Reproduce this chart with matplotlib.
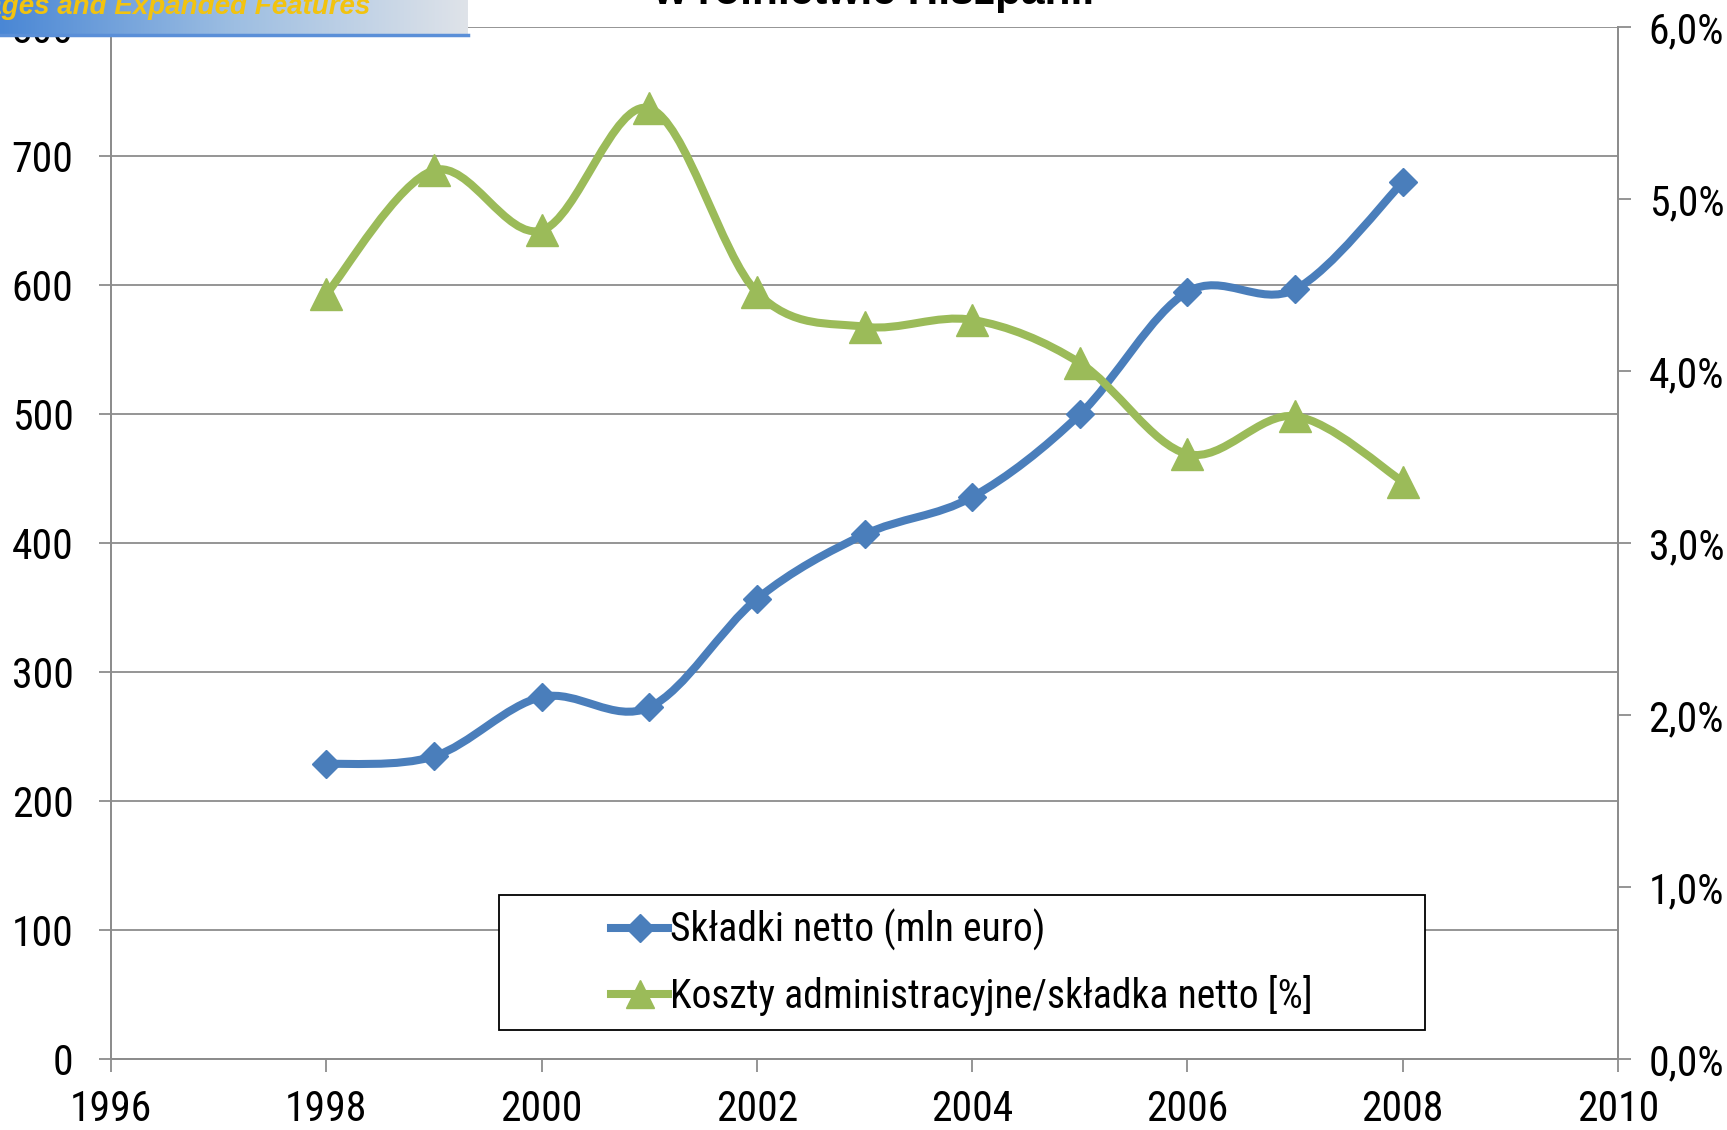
import numpy as np
import matplotlib
matplotlib.use("Agg")
import matplotlib.pyplot as plt
from matplotlib.path import Path
from matplotlib.patches import PathPatch, Rectangle
from matplotlib.lines import Line2D
from matplotlib.colors import LinearSegmentedColormap
from matplotlib.ticker import FuncFormatter, MultipleLocator

# --- data ---
years = [1998, 1999, 2000, 2001, 2002, 2003, 2004, 2005, 2006, 2007, 2008]
premiums = [229, 235, 281, 273, 357, 407, 436, 500, 595, 597, 680]          # mln euro
cost_ratio = [4.45, 5.17, 4.82, 5.53, 4.46, 4.26, 4.30, 4.05, 3.52, 3.74, 3.36]  # %

label_premiums = "Składki netto (mln euro)"
label_ratio = "Koszty administracyjne/składka netto [%]"
title_tail = "w rolnictwie Hiszpanii"
banner_text = "New Packages and Expanded Features"

C_BLUE = "#4A7EBB"
C_GREEN = "#9BBB59"
C_GRID = "#8C8C8C"

plt.rcParams["font.family"] = ["Roboto Condensed", "Liberation Sans", "DejaVu Sans"]


def smooth_path(xs, ys):
    """Excel-style smoothed line as cubic Bezier segments through the points."""
    n = len(xs)
    verts = [(xs[0], ys[0])]
    codes = [Path.MOVETO]
    for i in range(n - 1):
        x0, y0 = (xs[i - 1], ys[i - 1]) if i > 0 else (xs[i], ys[i])
        x3, y3 = (xs[i + 2], ys[i + 2]) if i + 2 < n else (xs[i + 1], ys[i + 1])
        c1 = (xs[i] + (xs[i + 1] - x0) / 6, ys[i] + (ys[i + 1] - y0) / 6)
        c2 = (xs[i + 1] - (x3 - xs[i]) / 6, ys[i + 1] - (y3 - ys[i]) / 6)
        verts += [c1, c2, (xs[i + 1], ys[i + 1])]
        codes += [Path.CURVE4] * 3
    return Path(verts, codes)


fig = plt.figure(figsize=(17.27, 11.30), dpi=100)
ax = fig.add_axes([0.0643, 0.0624, 0.8726, 0.9133])
ax2 = ax.twinx()

# left axis: premiums
ax.add_patch(PathPatch(smooth_path(years, premiums), facecolor="none", edgecolor=C_BLUE,
                       lw=5.8, capstyle="round", joinstyle="round", zorder=3))
ax.plot(years, premiums, linestyle="none", marker="D", ms=14.5, color=C_BLUE, zorder=4)

# right axis: admin costs / premium
ax2.add_patch(PathPatch(smooth_path(years, cost_ratio), facecolor="none", edgecolor=C_GREEN,
                        lw=5.8, capstyle="round", joinstyle="round", zorder=3))
ax2.plot(years, cost_ratio, linestyle="none", marker="^", ms=23, color=C_GREEN, zorder=4)

ax.set_xlim(1996, 2010)
ax.set_ylim(0, 800)
ax2.set_ylim(0, 6)
ax.xaxis.set_major_locator(MultipleLocator(2))
ax.yaxis.set_major_locator(MultipleLocator(100))
ax2.yaxis.set_major_locator(MultipleLocator(1))
ax2.yaxis.set_major_formatter(FuncFormatter(lambda v, p: f"{v:.1f}%".replace(".", ",")))

ax.yaxis.grid(True, color=C_GRID, linewidth=1.3)
ax.set_axisbelow(True)
for a in (ax, ax2):
    a.spines["top"].set_visible(False)
    for s in ("left", "right", "bottom"):
        a.spines[s].set_color(C_GRID)
        a.spines[s].set_linewidth(1.3)
ax.tick_params(axis="x", direction="out", length=9, width=1.3, color=C_GRID, labelsize=30, pad=12)
ax.tick_params(axis="y", direction="out", length=9, width=1.3, color=C_GRID, labelsize=30, pad=18)
ax2.tick_params(axis="y", direction="out", length=9, width=1.3, color=C_GRID, labelsize=30, pad=13)

# legend: white box with centred entries
ax2.add_patch(Rectangle((0.2575, 0.0286), 0.6145, 0.1308, transform=ax.transAxes,
                        facecolor="white", edgecolor="black", lw=1.3, zorder=5))
handles = [
    Line2D([], [], color=C_BLUE, lw=5.8, marker="D", ms=14),
    Line2D([], [], color=C_GREEN, lw=5.8, marker="^", ms=20),
]
leg = ax2.legend(handles, [label_premiums, label_ratio], loc="center",
                 bbox_to_anchor=(0.5647, 0.094), bbox_transform=ax.transAxes,
                 frameon=False, fontsize=28.5, handlelength=1.45, handletextpad=0.05,
                 labelspacing=0.62, borderpad=0)
leg.set_zorder(6)

# title, mostly cropped off the top of the canvas
fig.text(0.5058, 1 - 4 / 1130, title_tail, ha="center", va="baseline",
         fontsize=30.5, fontweight="bold", family=["Liberation Sans", "DejaVu Sans"])

# cropped banner in the top-left corner
bax = fig.add_axes([0, 1 - 35 / 1130, 468 / 1727, 35 / 1130])
grad = LinearSegmentedColormap.from_list("banner", ["#4A87D5", "#9DBEE2", "#DFE3E9"])
bax.imshow(np.linspace(0, 1, 256)[None, :], cmap=grad, aspect="auto",
           extent=[0, 1, 0, 1])
bax.set_xlim(0, 1)
bax.set_ylim(0, 1)
bax.set_xticks([])
bax.set_yticks([])
for s in ("left", "right", "top"):
    bax.spines[s].set_visible(False)
bax.spines["bottom"].set_color("#5A8FD8")
bax.spines["bottom"].set_linewidth(2.5)
bax.text(370 / 468, 0.6, banner_text, ha="right", va="baseline", fontsize=20,
         fontweight="bold", style="italic", color="#F2C30F",
         family=["Liberation Sans", "DejaVu Sans"])

fig.savefig("out.png", dpi=100)
